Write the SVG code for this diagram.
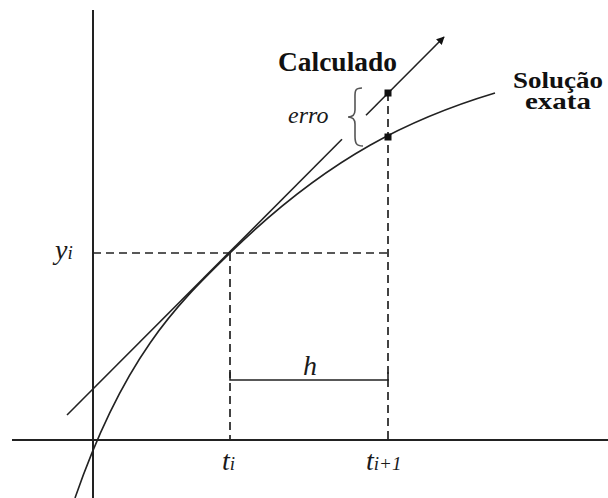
<svg xmlns="http://www.w3.org/2000/svg" width="608" height="498" viewBox="0 0 608 498">
<style>
.ax{stroke:#222;stroke-width:2;fill:none}
.ln{stroke:#222;stroke-width:1.6;fill:none}
.dash{stroke:#222;stroke-width:1.7;fill:none;stroke-dasharray:8 5}
.lbl{font-family:'Liberation Serif','DejaVu Serif',serif;font-weight:bold;fill:#111}
.it{font-family:'Liberation Serif','DejaVu Serif',serif;font-style:italic;fill:#1a1a1a}
</style>
<defs>
<marker id="arr" viewBox="0 0 10 10" refX="9" refY="5" markerWidth="8" markerHeight="8" markerUnits="userSpaceOnUse" orient="auto">
<path d="M0,0 L10,5 L0,10 Z" fill="#111"/>
</marker>
</defs>
<g id="connectors">
<line class="ax" x1="93" y1="10" x2="93" y2="498"/>
<line class="ax" x1="12" y1="440" x2="608" y2="440"/>
<line class="dash" x1="93" y1="253" x2="388" y2="253"/>
<line class="dash" x1="230" y1="253" x2="230" y2="440"/>
<line class="dash" x1="388" y1="93" x2="388" y2="440"/>
<path class="ln" d="M230,372 V380 H388 V372"/>
<path class="ln" d="M75,498 C125,353 180,302 230,253 C330,155 415,117 495,93"/>
<line class="ln" x1="67" y1="415" x2="342" y2="139.3"/>
<line class="ln" x1="366" y1="115.2" x2="444" y2="37" marker-end="url(#arr)"/>
<path d="M362,88 C354,88 355,92 355,100 L355,110 C355,115 353,117 348,117 C353,117 355,119 355,124 L355,136 C355,143 356,146 363,146" fill="none" stroke="#555" stroke-width="1.6"/>
</g>
<g id="points">
<rect x="384.5" y="89.5" width="7" height="7" fill="#111"/>
<rect x="384.5" y="133.5" width="7" height="7" fill="#111"/>
</g>
<g id="labels">
<text class="lbl" x="278" y="71" font-size="27" textLength="119" lengthAdjust="spacingAndGlyphs">Calculado</text>
<text class="lbl" x="558" y="88" font-size="23" text-anchor="middle" textLength="90" lengthAdjust="spacingAndGlyphs">Solução</text>
<text class="lbl" x="558" y="109" font-size="23" text-anchor="middle" textLength="66" lengthAdjust="spacingAndGlyphs">exata</text>
<text class="it" x="288" y="123" font-size="24">erro</text>
<text class="it" x="55" y="259" font-size="28">y<tspan font-size="19">i</tspan></text>
<text class="it" x="222" y="470" font-size="28">t<tspan font-size="19">i</tspan></text>
<text class="it" x="366" y="470" font-size="28">t<tspan font-size="19">i+1</tspan></text>
<text class="it" x="310" y="375" font-size="28" text-anchor="middle">h</text>
</g>
</svg>
